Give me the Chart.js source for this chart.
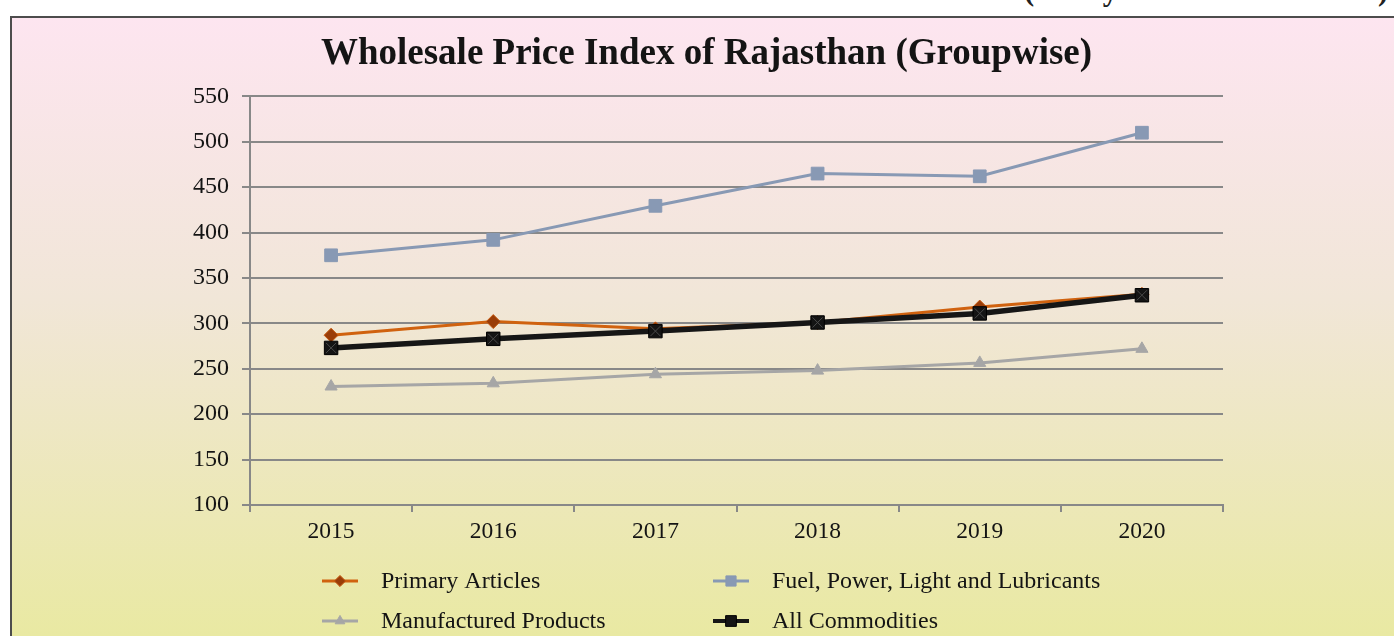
<!DOCTYPE html>
<html>
<head>
<meta charset="utf-8">
<script src="https://cdn.jsdelivr.net/npm/chart.js@4.4.1/dist/chart.umd.min.js"></script>
<style>
  html, body { margin: 0; padding: 0; background: #ffffff; width: 1394px; height: 636px; overflow: hidden; }
  #topnote { position: absolute; left: 1024px; top: -27px; font-family: "Liberation Serif", serif; font-weight: bold; font-size: 30.5px; color: #222; white-space: nowrap; }
  #frame { position: absolute; left: 10px; top: 16px; width: 1384px; height: 620px;
    border-left: 2px solid #4d4d4d; border-top: 2px solid #4d4d4d;
    background: linear-gradient(to bottom, #fde5f0 0%, #f1e6d8 45%, #e9e9a2 100%); }
  #wrap { position: absolute; left: 0; top: 0; width: 1384px; height: 620px; }
</style>
</head>
<body>
<div id="topnote">(Base year 1999-2000 = 100)</div>
<div id="frame"><div id="wrap"><canvas id="c"></canvas></div></div>
<script>
const categories = ['2015', '2016', '2017', '2018', '2019', '2020'];
const seriesNames = ['Primary Articles', 'Fuel, Power, Light and Lubricants', 'Manufactured Products', 'All Commodities'];
const primaryArticles = [287, 302, 294, 301, 318, 332];
const fuelPower = [375, 392, 429.5, 465, 462, 510];
const manufactured = [230.5, 234, 244, 248, 256.5, 272];
const allCommodities = [273, 283, 291.5, 301, 311, 331];
const yTicks = [100, 150, 200, 250, 300, 350, 400, 450, 500, 550];

const serif = '"Liberation Serif", "Times New Roman", serif';

const crossPlugin = {
  id: 'crossMarks',
  afterDatasetsDraw(chart) {
    const ctx = chart.ctx;
    const meta = chart.getDatasetMeta(3);
    ctx.save();
    ctx.strokeStyle = '#4a4a4a';
    ctx.lineWidth = 1;
    meta.data.forEach(pt => {
      const s = 5;
      ctx.beginPath();
      ctx.moveTo(pt.x - s, pt.y - s); ctx.lineTo(pt.x + s, pt.y + s);
      ctx.moveTo(pt.x + s, pt.y - s); ctx.lineTo(pt.x - s, pt.y + s);
      ctx.stroke();
    });
    ctx.restore();
  }
};

const legendPlugin = {
  id: 'gridLegend',
  afterDraw(chart) {
    const ctx = chart.ctx;
    const cols = [310, 701];
    const rows = [563, 603];
    chart.data.datasets.forEach((ds, i) => {
      const x = cols[i % 2];
      const y = rows[Math.floor(i / 2)];
      ctx.save();
      ctx.strokeStyle = ds.borderColor;
      ctx.lineWidth = Math.min(ds.borderWidth, 4);
      ctx.beginPath();
      ctx.moveTo(x, y);
      ctx.lineTo(x + 36, y);
      ctx.stroke();
      ctx.fillStyle = ds.pointBackgroundColor;
      ctx.strokeStyle = ds.pointBorderColor;
      ctx.lineWidth = ds.pointBorderWidth;
      Chart.helpers.drawPoint(ctx, {
        pointStyle: ds.pointStyle,
        radius: ds.pointRadius * 0.8,
        borderWidth: ds.pointBorderWidth
      }, x + 18, y);
      ctx.fillStyle = '#141414';
      ctx.font = '24px ' + serif;
      ctx.textBaseline = 'middle';
      ctx.textAlign = 'left';
      ctx.fillText(seriesNames[i], x + 59, y + 1);
      ctx.restore();
    });
  }
};

new Chart(document.getElementById('c'), {
  type: 'line',
  data: {
    labels: categories,
    datasets: [
      { label: seriesNames[0], data: primaryArticles, borderColor: '#d0620f', borderWidth: 3,
        pointStyle: 'rectRot', pointRadius: 7, pointBackgroundColor: '#9a3d08', pointBorderColor: '#c55a11', pointBorderWidth: 1, order: 2 },
      { label: seriesNames[1], data: fuelPower, borderColor: '#8899b4', borderWidth: 3,
        pointStyle: 'rect', pointRadius: 9, pointBackgroundColor: '#8899b4', pointBorderColor: '#8899b4', pointBorderWidth: 1, order: 3 },
      { label: seriesNames[2], data: manufactured, borderColor: '#a6a6a6', borderWidth: 3,
        pointStyle: 'triangle', pointRadius: 7, pointBackgroundColor: '#a6a6a6', pointBorderColor: '#a6a6a6', pointBorderWidth: 1, order: 4 },
      { label: seriesNames[3], data: allCommodities, borderColor: '#161616', borderWidth: 5.5,
        pointStyle: 'rect', pointRadius: 9.5, pointBackgroundColor: '#141414', pointBorderColor: '#000000', pointBorderWidth: 1, order: 1 }
    ]
  },
  options: {
    responsive: true,
    maintainAspectRatio: false,
    animation: false,
    events: [],
    layout: { padding: { left: 178, right: 173, top: 0, bottom: 88 } },
    plugins: {
      legend: { display: false },
      tooltip: { enabled: false },
      title: {
        display: true,
        text: 'Wholesale Price Index of Rajasthan (Groupwise)',
        color: '#141414',
        font: { family: serif, size: 37, weight: 'bold', lineHeight: 1.2 },
        padding: { top: 14, bottom: 20 }
      }
    },
    scales: {
      x: {
        type: 'category',
        offset: true,
        grid: { offset: true, drawOnChartArea: false, drawTicks: true, tickLength: 7, color: '#888888', lineWidth: 2 },
        border: { display: true, color: '#888888', width: 2 },
        ticks: { color: '#141414', font: { family: serif, size: 23.5 }, padding: 6, maxRotation: 0 },
        afterFit(scale) { scale.height = 45; }
      },
      y: {
        min: 100, max: 550,
        afterBuildTicks(scale) { scale.ticks = yTicks.map(v => ({ value: v })); },
        grid: { color: '#888888', lineWidth: 2, drawTicks: true, tickLength: 8 },
        border: { display: true, color: '#888888', width: 2 },
        ticks: { color: '#141414', font: { family: serif, size: 24 }, padding: 13 },
        afterFit(scale) { scale.width = 60; }
      }
    }
  },
  plugins: [crossPlugin, legendPlugin]
});
</script>
</body>
</html>
